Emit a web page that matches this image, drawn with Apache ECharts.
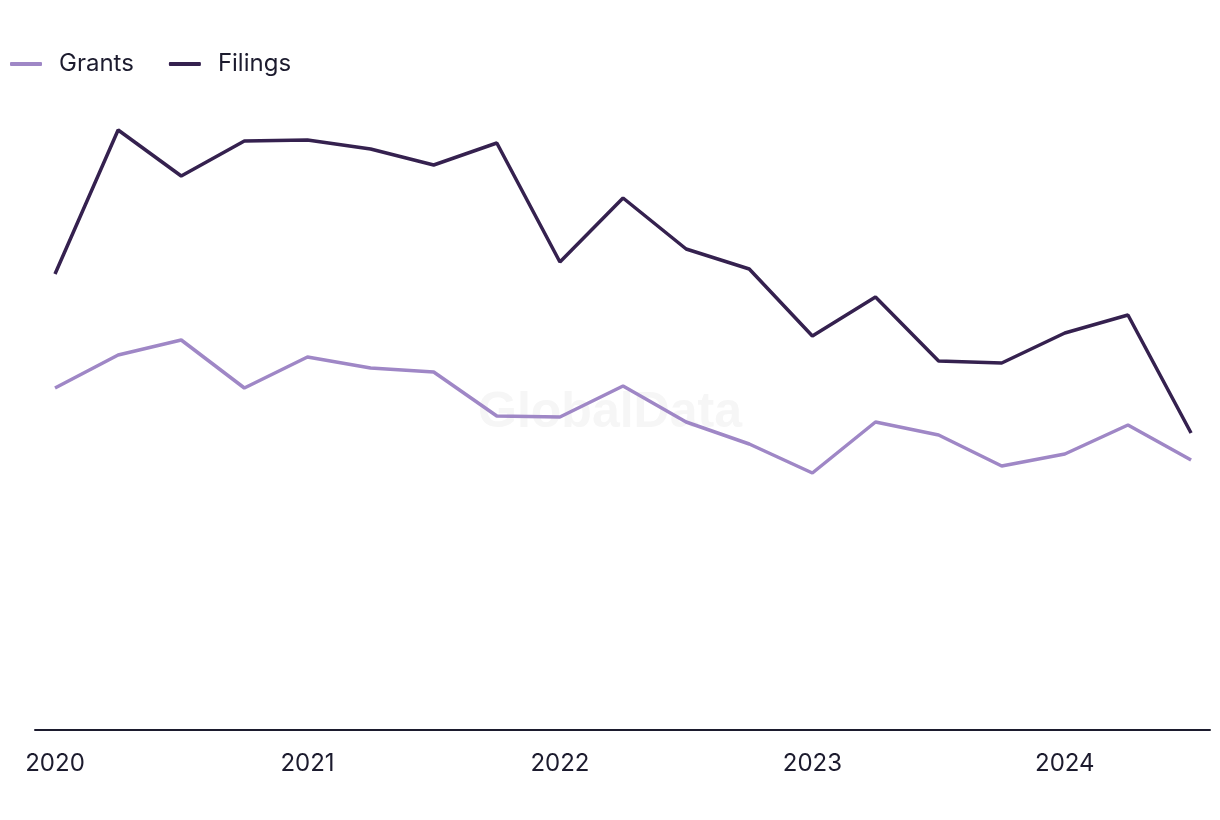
<!DOCTYPE html>
<html>
<head>
<meta charset="utf-8">
<script src="https://cdn.jsdelivr.net/npm/echarts@6/dist/echarts.min.js"></script>
<style>
html,body{margin:0;padding:0;background:#fff;}
#chart{width:1220px;height:820px;}
</style>
</head>
<body>
<div id="chart"></div>
<script>
// Quarterly periods 2020 Q1 .. 2024 Q3
const quarters = ['2020 Q1','2020 Q2','2020 Q3','2020 Q4','2021 Q1','2021 Q2','2021 Q3','2021 Q4','2022 Q1','2022 Q2','2022 Q3','2022 Q4','2023 Q1','2023 Q2','2023 Q3','2023 Q4','2024 Q1','2024 Q2','2024 Q3'];
const yearTicks = [0, 4, 8, 12, 16];
const yearLabels = ['2020', '2021', '2022', '2023', '2024'];
const grants = [342, 375, 390, 342, 373, 362, 358, 314, 313, 344, 308, 286, 257, 308, 295, 264, 276, 305, 270];
const filings = [456, 600, 554, 589, 590, 581, 565, 587, 468, 532, 481, 461, 394, 433, 369, 367, 397, 415, 297];

const textColor = '#1c1b2e';
const font = 'Inter, "Noto Sans", sans-serif';

const chart = echarts.init(document.getElementById('chart'), null, {renderer: 'canvas'});
chart.setOption({
  backgroundColor: '#ffffff',
  animation: false,
  graphic: [{
    type: 'text',
    left: 'center',
    top: 388,
    z: -1,
    silent: true,
    style: {
      text: 'GlobalData',
      fill: '#f6f6f6',
      font: 'bold 50px "Liberation Sans", Arial, sans-serif'
    }
  }],
  legend: {
    left: 5,
    top: 47,
    icon: 'roundRect',
    itemWidth: 32,
    itemHeight: 4,
    itemGap: 35,
    textStyle: {
      color: textColor,
      fontSize: 24,
      fontFamily: font,
      padding: [0, 0, 0, 12]
    },
    data: ['Grants', 'Filings']
  },
  grid: {left: 35, right: 10, top: 100, bottom: 90, containLabel: false},
  xAxis: {
    type: 'value',
    min: -0.317,
    max: 18.3,
    splitLine: {show: false},
    axisTick: {show: false},
    axisLine: {show: true, lineStyle: {color: textColor, width: 2}},
    axisLabel: {
      customValues: yearTicks,
      formatter: function (v) {
        const i = yearTicks.indexOf(Math.round(v));
        return i >= 0 ? yearLabels[i] : '';
      },
      color: textColor,
      fontSize: 24,
      fontFamily: font,
      margin: 22
    }
  },
  yAxis: {
    type: 'value',
    min: 0,
    max: 630,
    show: false,
    splitLine: {show: false}
  },
  series: [
    {
      name: 'Grants',
      type: 'line',
      symbol: 'none',
      data: grants.map((v, i) => [i, v]),
      lineStyle: {color: '#9f87c6', width: 3.5},
      itemStyle: {color: '#9f87c6'}
    },
    {
      name: 'Filings',
      type: 'line',
      symbol: 'none',
      data: filings.map((v, i) => [i, v]),
      lineStyle: {color: '#35214f', width: 3.5},
      itemStyle: {color: '#35214f'}
    }
  ]
});
</script>
</body>
</html>
